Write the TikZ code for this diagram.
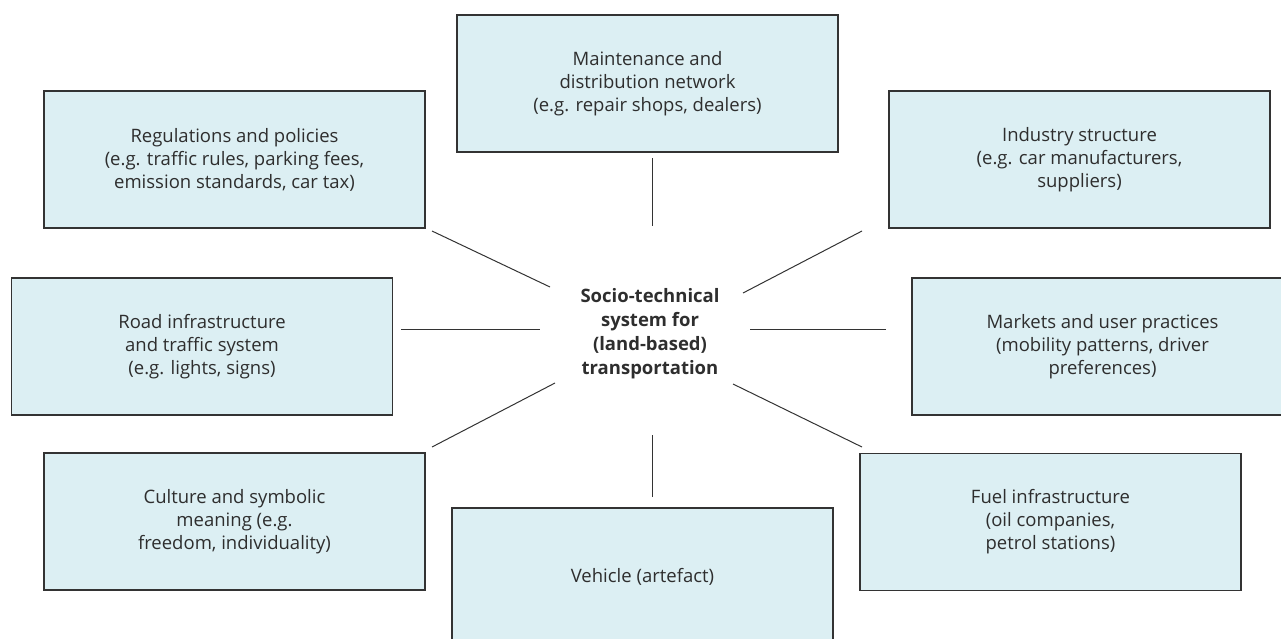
\documentclass[tikz,border=0pt]{standalone}
\usepackage{fontspec}
\setmainfont{Open Sans}
\definecolor{boxfill}{HTML}{DCEFF3}
\definecolor{boxline}{HTML}{333333}
\definecolor{ink}{HTML}{2E2E2E}
\tikzset{
  factor/.style={draw=boxline, line width=1.4pt, fill=boxfill, rectangle,
    minimum width=381pt, minimum height=137pt, align=center, text=ink,
    inner sep=0pt, font=\fontsize{18.5}{23}\selectfont},
  hub/.style={align=center, text=ink, inner sep=0pt,
    font=\bfseries\fontsize{18.5}{24}\selectfont},
  link/.style={draw=boxline, line width=1pt}
}
\begin{document}
\begin{tikzpicture}[x=1pt, y=-1pt]
\useasboundingbox (0,0) rectangle (1281,638);
\clip (0,0) rectangle (1281,638);

% surrounding factors
\node[factor] (maint) at (647.5,83.5) {Maintenance and\\distribution network\\(e.g. repair shops, dealers)};
\node[factor] (reg) at (234.5,159.5) {Regulations and policies\\(e.g. traffic rules, parking fees,\\emission standards, car tax)};
\node[factor] (ind) at (1079.5,159.5) {Industry structure\\(e.g. car manufacturers,\\suppliers)};
\node[factor] (road) at (202,346.5) {Road infrastructure\\and traffic system\\(e.g. lights, signs)};
\node[factor] (mkt) at (1102.5,346.5) {Markets and user practices\\(mobility patterns, driver\\preferences)};
\node[factor] (cult) at (234.5,521.5) {Culture and symbolic\\meaning (e.g.\\freedom, individuality)};
\node[factor] (fuel) at (1050.5,522) {Fuel infrastructure\\(oil companies,\\petrol stations)};
\node[factor] (veh) at (642.5,576.5) {Vehicle (artefact)};

% central system
\node[hub] (sys) at (650,334) {Socio-technical\\system for\\(land-based)\\transportation};

% connector end points (lines stop short of boxes and hub)
\coordinate (maint-e) at (652,158);  \coordinate (maint-s) at (652,226);
\coordinate (veh-e)   at (652,497);  \coordinate (veh-s)   at (652,435);
\coordinate (road-e)  at (401,329);  \coordinate (road-s)  at (540,329);
\coordinate (mkt-e)   at (886,329);  \coordinate (mkt-s)   at (750,329);
\coordinate (reg-e)   at (432,231);  \coordinate (reg-s)   at (550,287);
\coordinate (ind-e)   at (862,231);  \coordinate (ind-s)   at (743,293);
\coordinate (cult-e)  at (432,447);  \coordinate (cult-s)  at (555,383);
\coordinate (fuel-e)  at (862,447);  \coordinate (fuel-s)  at (733,384);

\draw[link] (maint-e) -- (maint-s);
\draw[link] (veh-e) -- (veh-s);
\draw[link] (road-e) -- (road-s);
\draw[link] (mkt-e) -- (mkt-s);
\draw[link] (reg-e) -- (reg-s);
\draw[link] (ind-e) -- (ind-s);
\draw[link] (cult-e) -- (cult-s);
\draw[link] (fuel-e) -- (fuel-s);
\end{tikzpicture}
\end{document}
